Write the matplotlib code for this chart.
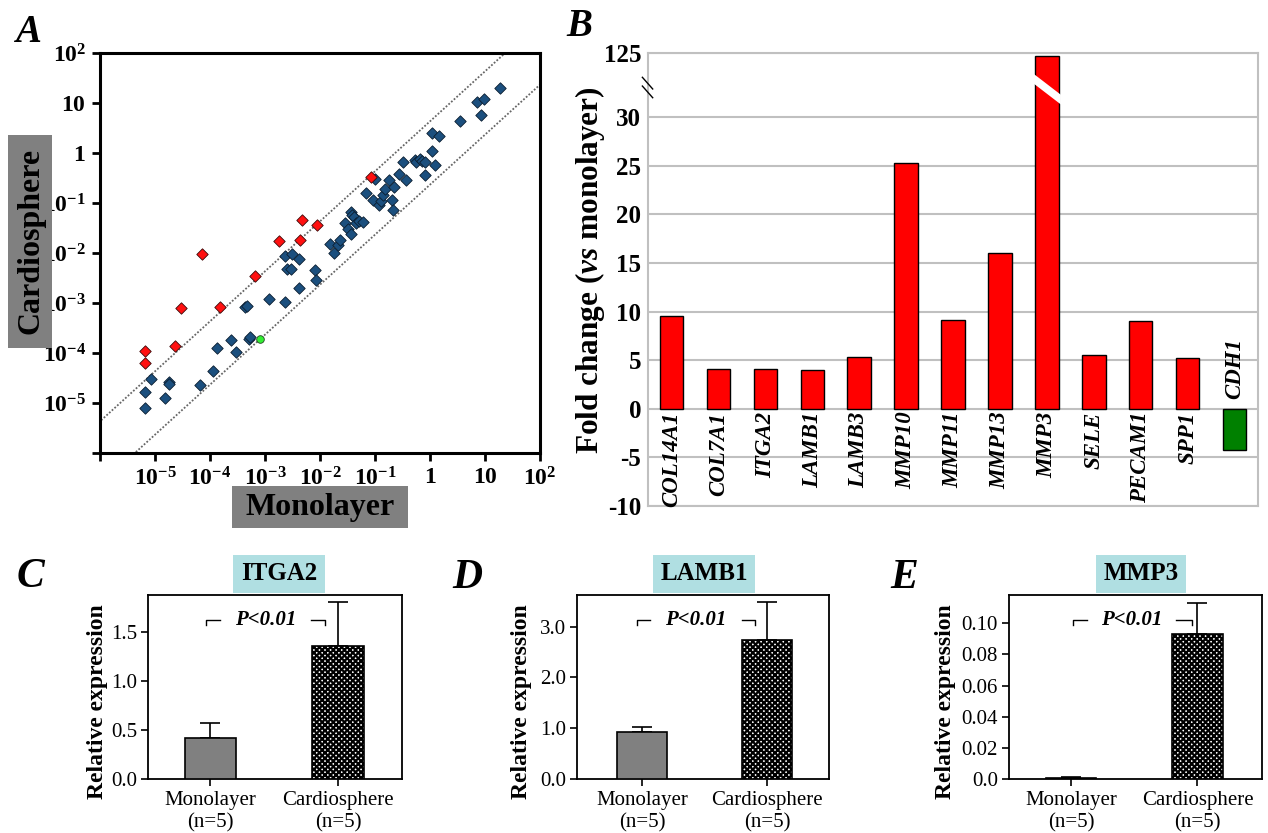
import numpy as np
import matplotlib
matplotlib.use('Agg')
import matplotlib.pyplot as plt
from matplotlib.patches import Rectangle, Polygon
from matplotlib.lines import Line2D
from matplotlib.ticker import NullLocator

plt.rcParams['font.family'] = ['Liberation Serif', 'DejaVu Serif']
plt.rcParams['mathtext.fontset'] = 'custom'
plt.rcParams['mathtext.rm'] = 'Liberation Serif'
plt.rcParams['mathtext.bf'] = 'Liberation Serif:bold'
plt.rcParams['mathtext.it'] = 'Liberation Serif:italic:bold'
plt.rcParams['hatch.linewidth'] = 1.6

# ---------------- Panel A data (log10 of expression) ----------------
blue_log_mono = [-5.19, -5.19, -5.07, -4.82, -4.74, -4.74, -4.19, -3.95, -3.87, -3.62,
                 -3.53, -3.36, -3.32, -3.29, -3.27, -2.93, -2.64, -2.64, -2.60, -2.53,
                 -2.51, -2.38, -2.38, -2.10, -2.08, -1.81, -1.74, -1.68, -1.64, -1.55,
                 -1.49, -1.44, -1.44, -1.41, -1.38, -1.34, -1.29, -1.21, -1.16, -1.03,
                 -1.00, -0.92, -0.90, -0.85, -0.82, -0.74, -0.69, -0.68, -0.66, -0.56,
                 -0.50, -0.43, -0.27, -0.25, -0.19, -0.14, -0.10, -0.10, 0.03, 0.04,
                 0.09, 0.17, 0.54, 0.85, 0.93, 0.99, 1.27]
blue_log_cardio = [-4.78, -5.10, -4.52, -4.90, -4.57, -4.62, -4.63, -4.36, -3.90, -3.74,
                   -3.97, -3.07, -3.05, -3.72, -3.67, -2.92, -2.97, -2.05, -2.32, -2.32,
                   -2.01, -2.70, -2.11, -2.34, -2.53, -1.82, -1.99, -1.83, -1.74, -1.40,
                   -1.52, -1.62, -1.18, -1.23, -1.28, -1.39, -1.35, -1.38, -0.80, -0.93,
                   -0.51, -1.03, -0.96, -0.84, -0.72, -0.54, -0.94, -1.13, -0.67, -0.41,
                   -0.17, -0.54, -0.13, -0.18, -0.11, -0.15, -0.18, -0.44, 0.05, 0.41,
                   -0.23, 0.34, 0.64, 1.03, 0.76, 1.08, 1.31]
red_log_mono = [-5.19, -5.19, -4.64, -4.52, -4.14, -3.81, -3.19, -2.75, -2.36, -2.32, -2.06, -1.08]
red_log_cardio = [-3.95, -4.20, -3.86, -3.09, -2.02, -3.07, -2.45, -1.76, -1.74, -1.34, -1.43, -0.47]
green_log_mono = [-3.10]
green_log_cardio = [-3.72]
fold_threshold = 4.3

# ---------------- Panel B data ----------------
genes = ['COL14A1', 'COL7A1', 'ITGA2', 'LAMB1', 'LAMB3', 'MMP10', 'MMP11',
         'MMP13', 'MMP3', 'SELE', 'PECAM1', 'SPP1', 'CDH1']
fold_change = [9.5, 4.05, 4.05, 3.95, 5.35, 25.3, 9.1, 16.0, 121.0, 5.5, 9.0, 5.2, -4.2]
b_ticks = [-10, -5, 0, 5, 10, 15, 20, 25, 30]

# ---------------- Panels C-E data ----------------
groups = ['Monolayer\n(n=5)', 'Cardiosphere\n(n=5)']
itga2_mean = [0.42, 1.36]
itga2_err = [0.155, 0.45]
lamb1_mean = [0.92, 2.74]
lamb1_err = [0.11, 0.75]
mmp3_mean = [0.0005, 0.0931]
mmp3_err = [0.0007, 0.0202]

W, H = 1268, 833
fig = plt.figure(figsize=(W / 100, H / 100), dpi=100)


def axes_px(l, t, r, b):
    return fig.add_axes([l / W, 1 - b / H, (r - l) / W, (b - t) / H])


def fig_text(x, y, s, **kw):
    return fig.text(x / W, 1 - y / H, s, **kw)


# ======================= Panel A =======================
axA = axes_px(100, 53, 540, 453)
axA.set_xscale('log')
axA.set_yscale('log')
axA.set_xlim(1e-6, 1e2)
axA.set_ylim(1e-6, 1e2)
lims = np.array([1e-7, 1e3])
axA.plot(lims, lims * fold_threshold, ls=(0, (1, 1)), color='#666666', lw=1.3, zorder=1)
axA.plot(lims, lims / fold_threshold, ls=(0, (1, 1)), color='#666666', lw=1.3, zorder=1)
axA.scatter(10.0 ** np.array(blue_log_mono), 10.0 ** np.array(blue_log_cardio), marker='D', s=34,
            c='#1b4f7e', edgecolors='#0b1e30', linewidths=0.6, zorder=3)
axA.scatter(10.0 ** np.array(red_log_mono), 10.0 ** np.array(red_log_cardio), marker='D', s=34,
            c='#ff1010', edgecolors='#3a0a0a', linewidths=0.6, zorder=4)
axA.scatter(10.0 ** np.array(green_log_mono), 10.0 ** np.array(green_log_cardio), marker='o', s=30,
            c='#33ee33', edgecolors='#224422', linewidths=0.6, zorder=4)

dec = list(range(-6, 3))


def dec_label(e):
    if e == -6:
        return ''
    if e == 0:
        return r'$\mathbf{1}$'
    if e == 1:
        return r'$\mathbf{10}$'
    return r'$\mathbf{10^{%d}}$' % e


axA.set_xticks([10.0 ** e for e in dec])
axA.set_xticklabels([dec_label(e) for e in dec])
axA.set_yticks([10.0 ** e for e in dec])
axA.set_yticklabels([dec_label(e) for e in dec])
axA.xaxis.set_minor_locator(NullLocator())
axA.yaxis.set_minor_locator(NullLocator())
axA.tick_params(direction='out', length=6, width=2, labelsize=17, pad=4)
for sp in axA.spines.values():
    sp.set_linewidth(2.2)

# axis label boxes
fig.add_artist(Rectangle((232 / W, 1 - 528 / H), 176 / W, 42 / H, transform=fig.transFigure,
                         facecolor='#808080', edgecolor='none'))
fig_text(320, 507, 'Monolayer', ha='center', va='center', fontsize=23, fontweight='bold')
fig.add_artist(Rectangle((8 / W, 1 - 348 / H), 44 / W, 213 / H, transform=fig.transFigure,
                         facecolor='#808080', edgecolor='none'))
fig_text(31, 241, 'Cardiosphere', ha='center', va='center', fontsize=23, fontweight='bold', rotation=90)
fig_text(28, 32, 'A', ha='center', va='center', fontsize=28, fontweight='bold', fontstyle='italic')

# ======================= Panel B =======================
B_TOP = 36.6


def bmap(v):
    return v if v <= 30 else 30 + (v - 30) * (B_TOP - 30) / (125 - 30)


axB = axes_px(648, 53, 1258, 506)
xb = np.arange(len(genes))
bar_colors = ['#ff0000' if v > 0 else '#008000' for v in fold_change]
axB.bar(xb, [bmap(v) for v in fold_change], width=0.5, color=bar_colors,
        edgecolor='black', linewidth=1.0, zorder=3)
axB.set_xlim(-0.5, len(genes) - 0.5)
axB.set_ylim(-10, B_TOP)
axB.set_yticks(b_ticks + [B_TOP])
axB.set_yticklabels([str(t) for t in b_ticks] + ['125'])
axB.set_xticks([])
axB.grid(axis='y', color='#c0c0c0', lw=1.5)
axB.set_axisbelow(True)
for sp in axB.spines.values():
    sp.set_color('#c0c0c0')
    sp.set_linewidth(1.5)
axB.tick_params(axis='y', length=0, labelsize=18, pad=5)
for lab in axB.get_yticklabels():
    lab.set_fontweight('bold')

# break on the tallest bar
i_max = int(np.argmax(fold_change))
stripe = Polygon([(i_max - 0.32, 34.6), (i_max - 0.32, 33.6), (i_max + 0.3, 31.3), (i_max + 0.3, 32.3)],
                 closed=True, facecolor='white', edgecolor='none', zorder=5)
axB.add_patch(stripe)
# break mark on the axis
for dy in (0.0, -0.9):
    axB.add_line(Line2D([-0.62, -0.40], [34.1 + dy, 32.9 + dy], color='black', lw=1.0,
                        clip_on=False, zorder=6))

for i, (g, v) in enumerate(zip(genes, fold_change)):
    if v >= 0:
        axB.text(i, -0.3, g, rotation=90, ha='center', va='top', fontsize=16.5,
                 fontweight='bold', fontstyle='italic', clip_on=False, zorder=6)
    else:
        axB.text(i, 1.0, g, rotation=90, ha='center', va='bottom', fontsize=16.5,
                 fontweight='bold', fontstyle='italic', clip_on=False, zorder=6)

fig_text(590, 270, r'Fold change ($\mathit{vs}$ monolayer)', rotation=90, ha='center',
         va='center', fontsize=22.5, fontweight='bold')
fig_text(579, 27, 'B', ha='center', va='center', fontsize=28, fontweight='bold', fontstyle='italic')


# ======================= Panels C-E =======================
def small_panel(box, means, errs, ylim, yticks, yticklabels, xlim, title, title_xy,
                ylabel_xy, letter, letter_xy, bracket):
    ax = axes_px(*box)
    xs = np.arange(len(means))
    ax.errorbar(xs, means, yerr=[[0] * len(errs), errs], fmt='none', ecolor='black',
                elinewidth=1.2, capsize=7, capthick=1.2, zorder=2)
    ax.bar(xs[0], means[0], width=0.4, color='#808080', edgecolor='black', linewidth=1.2, zorder=3)
    ax.bar(xs[1], means[1], width=0.4, color='white', edgecolor='black', linewidth=1.2,
           hatch='xxxxxx', zorder=3)
    ax.set_xlim(*xlim)
    ax.set_ylim(*ylim)
    ax.set_yticks(yticks)
    ax.set_yticklabels(yticklabels)
    ax.set_xticks(xs)
    ax.set_xticklabels(groups)
    ax.tick_params(direction='out', length=5, width=1.2, labelsize=15, pad=3)
    ax.tick_params(axis='x', pad=4)
    for sp in ax.spines.values():
        sp.set_linewidth(1.3)
    # significance bracket
    (x0, x1, x2, x3, yb, ytick, xt) = bracket
    ax.plot([x0, x0, x1], [ytick, yb, yb], color='black', lw=1.0, zorder=4)
    ax.plot([x2, x3, x3], [yb, yb, ytick], color='black', lw=1.0, zorder=4)
    ax.text(xt, yb, 'P<0.01', ha='center', va='center', fontsize=15,
            fontweight='bold', fontstyle='italic', zorder=4)
    fig_text(*title_xy, title, ha='center', va='center', fontsize=18, fontweight='bold',
             bbox=dict(boxstyle='square,pad=0.3', facecolor='#b0dfe2', edgecolor='none'))
    fig_text(*ylabel_xy, 'Relative expression', rotation=90, ha='center', va='center',
             fontsize=17, fontweight='bold')
    fig_text(*letter_xy, letter, ha='center', va='center', fontsize=30,
             fontweight='bold', fontstyle='italic')
    return ax


small_panel((148, 595, 402, 779), itga2_mean, itga2_err, (0, 1.88),
            [0, 0.5, 1.0, 1.5], ['0.0', '0.5', '1.0', '1.5'], (-0.486, 1.5),
            'ITGA2', (279, 574), (97, 702), 'C', (30, 577),
            (-0.03, 0.075, 0.79, 0.90, 1.625, 1.574, 0.433))
small_panel((577, 595, 829, 779), lamb1_mean, lamb1_err, (0, 3.625),
            [0, 1.0, 2.0, 3.0], ['0.0', '1.0', '2.0', '3.0'], (-0.521, 1.495),
            'LAMB1', (704, 574), (522, 702), 'D', (467, 578),
            (-0.043, 0.064, 0.795, 0.902, 3.13, 3.03, 0.428))
small_panel((1009, 595, 1262, 779), mmp3_mean, mmp3_err, (0, 0.1182),
            [0, 0.02, 0.04, 0.06, 0.08, 0.10], ['0.0', '0.02', '0.04', '0.06', '0.08', '0.10'],
            (-0.492, 1.511), 'MMP3', (1141, 574), (945, 702), 'E', (904, 578),
            (0.011, 0.127, 0.831, 0.955, 0.1021, 0.0989, 0.479))

fig.savefig('out.png', dpi=100)
